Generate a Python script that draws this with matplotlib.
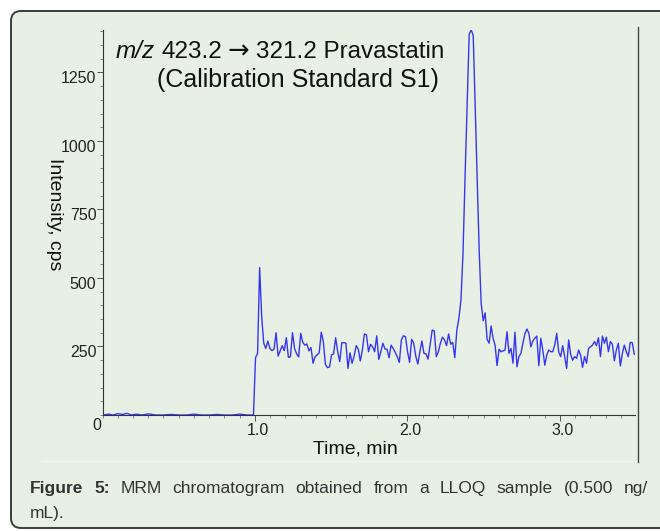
import matplotlib
matplotlib.use("Agg")
import matplotlib.pyplot as plt
import numpy as np
from matplotlib.patches import FancyBboxPatch
from matplotlib.lines import Line2D
from matplotlib.ticker import MultipleLocator, FixedLocator
from matplotlib.transforms import ScaledTranslation, IdentityTransform

plt.rcParams['font.family'] = ['Liberation Sans', 'DejaVu Sans']

# baseline before the solvent front (min, cps)
base_time = [0.00, 0.04, 0.07, 0.10, 0.13, 0.16, 0.19, 0.22, 0.26, 0.30, 0.35, 0.40,
             0.45, 0.50, 0.55, 0.60, 0.65, 0.70, 0.75, 0.80, 0.85, 0.90, 0.95, 0.98]
base_cps = [0, 3, 0, 5, 2, 6, 0, 3, 0, 4, 0, 0, 2, 0, 0, 3, 0, 0, 2, 0, 0, 3, 0, 0]

# scans from the front (0.990 min) to the pravastatin apex, and apex to end of run
t_front, t_apex, t_end = 0.990, 2.418, 3.487
cps_front = [0, 209, 225, 538, 359, 262, 243, 270, 243, 235,
             240, 300, 215, 234, 253, 235, 282, 210, 213, 300,
             243, 223, 212, 298, 265, 255, 259, 234, 246, 189,
             213, 219, 227, 302, 268, 185, 173, 175, 219, 223,
             282, 231, 195, 264, 264, 262, 170, 227, 189, 215,
             253, 241, 197, 237, 296, 292, 231, 258, 249, 231,
             289, 203, 231, 262, 241, 240, 209, 255, 243, 229,
             213, 192, 274, 289, 286, 231, 192, 276, 262, 215,
             186, 231, 270, 225, 223, 204, 258, 310, 307, 213,
             231, 262, 284, 274, 253, 296, 258, 265, 209, 310,
             353, 420, 590, 870, 1130, 1390, 1405]
cps_tail = [1385, 1120, 860, 600,
            408, 344, 373, 276, 262, 325, 280, 255, 180, 240,
            231, 234, 237, 304, 225, 243, 189, 302, 176, 213,
            225, 262, 296, 314, 298, 249, 270, 280, 288, 180,
            280, 237, 182, 219, 237, 231, 231, 255, 298, 231,
            213, 253, 215, 170, 274, 222, 200, 213, 207, 237,
            219, 174, 213, 189, 243, 249, 255, 268, 253, 282,
            213, 288, 262, 284, 231, 268, 258, 198, 237, 262,
            179, 223, 255, 231, 213, 265, 264, 222]

x_ticks = [1.0, 2.0, 3.0]
x_ticklabels = ['1.0', '2.0', '3.0']
y_ticks = [250, 500, 750, 1000, 1250]

caption_words = ['Figure', '5:', 'MRM', 'chromatogram', 'obtained', 'from', 'a',
                 'LLOQ', 'sample', '(0.500', 'ng/']
caption_tail = 'mL).'

W, H = 660, 531
fig = plt.figure(figsize=(W / 100, H / 100), dpi=100)
fig.patch.set_facecolor('white')

# rounded green panel
panel = FancyBboxPatch((11, 3), 720, 517, boxstyle='round,pad=0,rounding_size=10',
                       facecolor='#e8f0e5', edgecolor='#3c3c3c', linewidth=1.4,
                       transform=IdentityTransform(), zorder=-10)
fig.add_artist(panel)
fig.add_artist(Line2D([42 / W, 638 / W], [(H - 461) / H] * 2, color='#f2f6f1', lw=1,
                      transform=fig.transFigure))
fig.add_artist(Line2D([638 / W] * 2, [(H - 462) / H, (H - 27) / H], color='#444444', lw=1,
                      transform=fig.transFigure))

ax = fig.add_axes([102.5 / W, 116 / H, 532.2 / W, 385 / H])
ax.set_facecolor('none')

time_front = np.linspace(t_front, t_apex, len(cps_front))
time_tail = np.linspace(t_apex, t_end, len(cps_tail) + 1)[1:]
time = np.concatenate([base_time, time_front, time_tail])
cps = np.concatenate([base_cps, cps_front, cps_tail])
ax.plot(time, cps, color='#3636f2', lw=1.0, zorder=3)

ax.set_xlim(0, 3.49)
ax.set_ylim(0, 1405)
for s in ['top', 'right']:
    ax.spines[s].set_visible(False)
for s in ['left', 'bottom']:
    ax.spines[s].set_color('#333333')
    ax.spines[s].set_linewidth(0.8)

ax.xaxis.set_major_locator(FixedLocator(x_ticks))
ax.set_xticklabels(x_ticklabels)
ax.xaxis.set_minor_locator(MultipleLocator(0.1))
ax.yaxis.set_major_locator(FixedLocator(y_ticks))
ax.yaxis.set_minor_locator(MultipleLocator(50))
ax.tick_params(which='major', direction='out', length=4, width=0.7, color='#555555',
               labelsize=11.5, labelcolor='#222222', pad=1.5)
ax.tick_params(which='minor', direction='out', length=2.5, width=0.6, color='#777777')

for lab in ax.get_yticklabels():
    lab.set_transform(lab.get_transform() + ScaledTranslation(0.015, -0.05, fig.dpi_scale_trans))
for lab in ax.get_xticklabels():
    lab.set_transform(lab.get_transform() + ScaledTranslation(0.03, 0, fig.dpi_scale_trans))
fig.text(97 / W, (H - 425) / H, '0', fontsize=11.5, color='#222222', ha='center', va='center')

fig.text(355 / W, (H - 454) / H, 'Time, min', fontsize=14, color='#111111',
         ha='center', va='baseline')
fig.text(54 / W, (H - 214) / H, 'Intensity, cps', fontsize=14, color='#111111',
         ha='center', va='center', rotation=270)

# title, pieced together so the arrow can come from DejaVu Sans
ty1 = (H - 58.5) / H
fig.text(116 / W, ty1, 'm/z', fontsize=17.5, style='italic', color='#111111', va='baseline')
fig.text(161 / W, ty1, '423.2', fontsize=17.5, color='#111111', va='baseline')
fig.text(238.5 / W, ty1, '→', fontsize=18.5, family='DejaVu Sans', color='#111111',
         ha='center', va='baseline')
fig.text(256 / W, ty1, '321.2 Pravastatin', fontsize=17.5, color='#111111', va='baseline')
fig.text(157 / W, (H - 86.5) / H, '(Calibration Standard S1)', fontsize=18,
         color='#111111', ha='left', va='baseline')

# justified caption line
x0, x1, y1 = 30, 648, (H - 492.7) / H
texts = [fig.text(0, y1, w, fontsize=12.5, color='#333333', va='baseline',
                  fontweight='bold' if i < 2 else 'normal')
         for i, w in enumerate(caption_words)]
renderer = fig.canvas.get_renderer()
widths = [t.get_window_extent(renderer).width for t in texts]
gap = (x1 - x0 - sum(widths)) / (len(texts) - 1)
x = x0
for t, w in zip(texts, widths):
    t.set_x(x / W)
    x += w + gap
fig.text(x0 / W, (H - 517.7) / H, caption_tail, fontsize=12.5, color='#333333', va='baseline')

fig.savefig('out.png', dpi=100, facecolor='white')
